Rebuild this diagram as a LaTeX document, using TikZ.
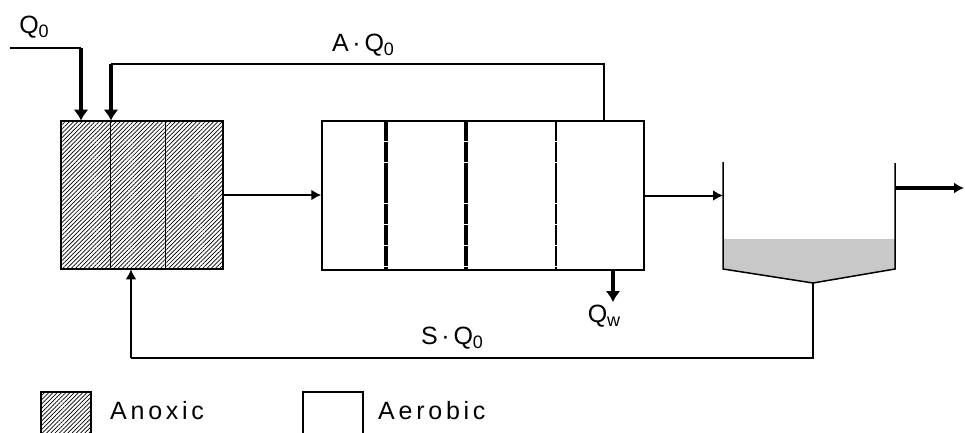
\documentclass[tikz,border=0pt]{standalone}
\usepackage{fontspec}
\setmainfont[LetterSpace=15]{Liberation Sans}
\usetikzlibrary{patterns.meta,arrows.meta}
\definecolor{schlamm}{RGB}{200,200,200}
\newcommand{\tiefsub}[1]{\raisebox{-4pt}{\fontsize{18}{18}\selectfont #1}}

\begin{document}
\begin{tikzpicture}[x=1pt, y=-1pt, >={Latex[length=10pt,width=11pt]}, font=\fontsize{25}{30}\selectfont,
		becken/.style={draw, line width=1.5pt, inner sep=0pt},
		schraffur/.style={pattern={Lines[angle=45,distance=3pt,line width=0.7pt]}},
		leitung/.style={line width=1.5pt},
		strom/.style={line width=2pt, ->},
		zulauf/.style={line width=3.5pt, -{Latex[length=11pt,width=15pt]}},
		trenn/.style={line width=3.5pt, dash pattern=on 20pt off 0.8pt}]
				% Bildbereich
				\useasboundingbox (0,0) rectangle (965,433);
				% Becken zeichnen
				\node[becken, schraffur, minimum width=162pt, minimum height=148pt] (anox) at (142,195) {};
				\node[becken, minimum width=322pt, minimum height=149pt] (aer) at (483,195.5) {};
				\draw[line width=1pt] (110,121) -- (110,269) (165,121) -- (165,269);
				\draw[trenn] (386,121) -- (386,270) (466,121) -- (466,270);
				\draw[trenn, line width=2.5pt] (556,121) -- (556,270);
				% Nachklaerbecken
				\coordinate (nkl) at (723,162);
				\coordinate (nklu) at (723,269);
				\coordinate (nkr) at (895,163);
				\coordinate (nkru) at (895,269);
				\coordinate (nks) at (813,283);
				\fill[schlamm] (723,239) -- (895,239) -- (nkru) -- (nks) -- (nklu) -- cycle;
				\draw[leitung] (nkl) -- (nklu) -- (nks) -- (nkru) -- (nkr);
				% Zulauf und interne Rezirkulation
				\coordinate (zu) at (10,48);
				\coordinate (zuk) at (81,48);
				\draw[leitung] (zu) -- (zuk);
				\draw[zulauf] (zuk) -- (zuk |- anox.north);
				\coordinate (ra) at (604,64);
				\coordinate (rae) at (111,64);
				\draw[leitung] (ra |- aer.north) -- (ra) -- (rae);
				\draw[zulauf] (rae) -- (rae |- anox.north);
				% Verbindungen
				\draw[strom] (anox.east) -- (anox.east -| aer.west);
				\draw[strom] (aer.east) -- (aer.east -| nkl);
				\coordinate (ab) at (964,188);
				\draw[line width=3.5pt, ->] (ab -| nkr) -- (ab);
				% Ueberschussschlamm
				\coordinate (qw) at (613,302);
				\draw[zulauf] (qw |- aer.south) -- (qw);
				% Ruecklaufschlamm
				\coordinate (rs) at (131,358);
				\draw[leitung] (nks) -- (nks |- rs) -- (rs);
				\draw[strom] (rs) -- (rs |- anox.south);
				% Beschriftung
				\node (q0lab) at (34,27) {Q\tiefsub{0}};
				\node (alab) at (363,45) {A·Q\tiefsub{0}};
				\node (slab) at (452,338) {S·Q\tiefsub{0}};
				\node (qwlab) at (604,316) {Q\tiefsub{w}};
				% Legende
				\draw[becken, schraffur] (41,440) -- (41,392) -- (91,392) -- (91,440);
				\node[anchor=west, inner sep=0pt] (anoxlab) at (110,411) {Anoxic};
				\draw[becken] (303,440) -- (303,392) -- (363,392) -- (363,440);
				\node[anchor=west, inner sep=0pt] (aerlab) at (378,411) {Aerobic};
		\end{tikzpicture}
\end{document}
